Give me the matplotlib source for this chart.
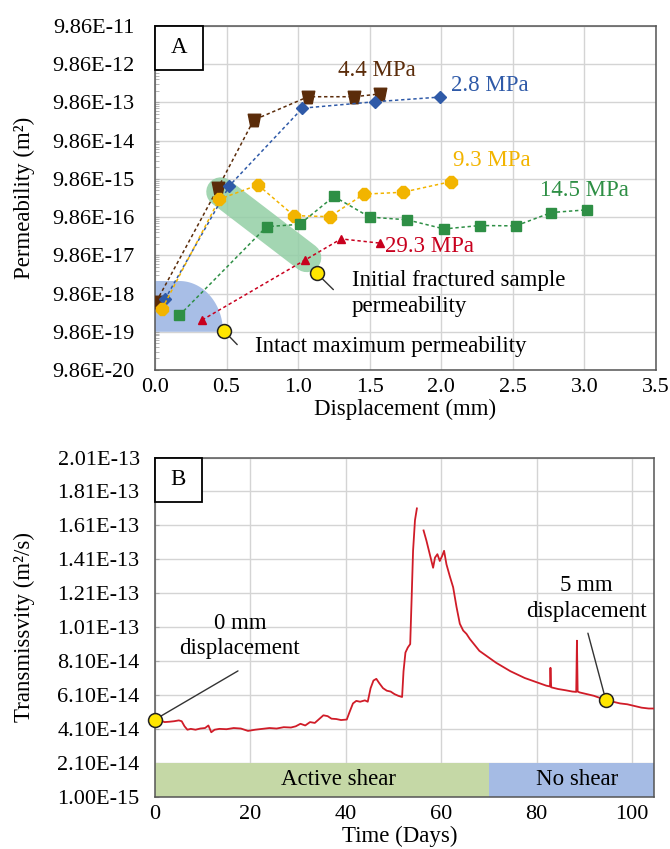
import numpy as np
import matplotlib.pyplot as plt
from matplotlib.path import Path
from matplotlib.patches import Rectangle, Polygon
from matplotlib.ticker import FixedLocator, NullFormatter

plt.rcParams['font.family'] = ['Liberation Serif', 'DejaVu Serif']

# ---- Panel A: permeability vs displacement, one series per normal stress
disp_28 = [0.07, 0.52, 1.03, 1.54, 1.99]
perm_28 = [6.98e-18, 6.52e-15, 6.98e-13, 1.03e-12, 1.36e-12]

disp_44 = [0.01, 0.44, 0.69, 1.07, 1.39, 1.57]
perm_44 = [6.08e-18, 5.67e-15, 3.42e-13, 1.39e-12, 1.39e-12, 1.64e-12]

disp_93 = [0.05, 0.45, 0.72, 0.97, 1.22, 1.46, 1.73, 2.07]
perm_93 = [3.93e-18, 2.91e-15, 6.82e-15, 1.08e-15, 1.01e-15, 3.93e-15, 4.40e-15, 8.39e-15]

disp_145 = [0.17, 0.78, 1.01, 1.25, 1.50, 1.76, 2.02, 2.27, 2.52, 2.77, 3.02]
perm_145 = [2.65e-18, 5.54e-16, 6.37e-16, 3.42e-15, 9.86e-16, 8.39e-16, 4.83e-16,
            5.94e-16, 5.81e-16, 1.30e-15, 1.53e-15]

disp_293 = [0.33, 1.05, 1.30, 1.57]
perm_293 = [2.01e-18, 7.48e-17, 2.65e-16, 2.06e-16]

# highlighted points (yellow circles)
intact_max = (0.48, 1.06e-18)
fractured_init = (1.13, 3.34e-17)

perm_ticks = [9.86e-20, 9.86e-19, 9.86e-18, 9.86e-17, 9.86e-16,
              9.86e-15, 9.86e-14, 9.86e-13, 9.86e-12, 9.86e-11]

# ---- Panel B: transmissivity vs time (units of 1e-14 m2/s)
days = [0, 1, 2, 3, 4, 5, 5.6, 6.2, 6.8, 7.5, 8.5, 9.5, 10.5, 11.2, 11.8, 12.5, 13.5,
        15, 16.5, 18, 19.5, 21, 22.5, 24, 25.5, 27, 28.5, 29.5, 30.5, 31.5, 32.5,
        33.5, 34.5, 35.3, 36.2, 37, 38, 39, 40.2, 40.8, 41.5, 42.2, 43, 44, 44.6,
        45.2, 45.8, 46.4, 47, 47.8, 48.6, 49.4, 50.2, 51, 51.8, 52.1, 52.5, 53,
        53.5, 53.8, 54.1, 54.5, 54.9, np.nan, 56.3, 56.9, 57.6, 58.3, 58.7, 59.2,
        59.7, 60.2, 60.6, 61.1, 61.8, 62.5, 63.2, 63.9, 64.6, 65.3, 66.0, 67, 68,
        69, 70, 71.5, 73, 74.5, 76, 77.5, 79, 80.5, 82, 82.8, 82.9, 83.05, 84.5,
        86, 87.5, 88.3, 88.45, 88.6, 89, 90.5, 92, 93.5, 94.5, 96, 97.5, 99,
        100.5, 102, 103.5, 104.6]
trans = [4.65, 4.62, 4.5, 4.52, 4.55, 4.6, 4.55, 4.25, 4.05, 4.1, 4.05, 4.12, 4.15,
         4.3, 3.9, 4.05, 4.1, 4.08, 4.15, 4.12, 3.98, 4.05, 4.1, 4.15, 4.12, 4.2,
         4.18, 4.25, 4.4, 4.3, 4.5, 4.45, 4.7, 4.9, 4.85, 4.7, 4.68, 4.62, 4.65,
         5.1, 5.6, 5.75, 5.7, 5.78, 5.7, 6.5, 6.95, 7.05, 6.8, 6.5, 6.35, 6.3,
         6.15, 6.05, 5.98, 7.5, 8.6, 8.9, 9.1, 11.8, 14.6, 16.4, 17.1, np.nan,
         15.8, 15.2, 14.4, 13.6, 14.2, 14.4, 14.0, 14.3, 14.6, 13.8, 13.1, 12.45,
         11.3, 10.3, 9.9, 9.7, 9.4, 9.05, 8.7, 8.5, 8.3, 8.0, 7.75, 7.5, 7.3, 7.1,
         6.95, 6.8, 6.65, 6.6, 7.7, 6.55, 6.45, 6.38, 6.3, 6.28, 9.3, 6.3, 6.25,
         6.15, 6.05, 5.9, 5.8, 5.7, 5.6, 5.55, 5.45, 5.35, 5.3, 5.3]
start_pt = (0, 4.65e-14)
end_pt = (94.5, 5.8e-14)
trans_ticks = [1.00e-15 + 2e-14 * i for i in range(11)]
shear_end = 70

fig = plt.figure(figsize=(6.7, 8.49), dpi=100)
fs = 16
grid_c = '#d4d4d4'
dash = (0, (2.2, 1.8))

# ================= panel A =================
ax = fig.add_axes([0.2313, 0.5642, 0.7478, 0.4052])
ax.set_yscale('log')
ax.set_xlim(0, 3.5)
ax.set_ylim(perm_ticks[0], perm_ticks[-1])

# blue zone: intact rock range (rounded block)
lb, lt = np.log10(9.86e-19), np.log10(2.1e-17)
t = np.linspace(0, np.pi / 2, 40)
cx, a = 0.17, 0.305
xs = list(cx + a * np.cos(t)) + [0, 0]
ys = list(10 ** (lb + (lt - lb) * np.sin(t))) + [10 ** lt, 10 ** lb]
ax.add_patch(Polygon(np.column_stack([xs, ys]), closed=True, facecolor='#a8bee6',
                     edgecolor='none', zorder=1.6))
# green band: initial fractured permeability trend
ax.plot([0.46, 1.06], [4.5e-15, 8.6e-17], lw=21, solid_capstyle='round',
        color='#93cfa5', alpha=0.85, zorder=1.6)

series = [
    (disp_44, perm_44, '#5b2c0a', None, 9),
    (disp_28, perm_28, '#2f5aa8', 'D', 6),
    (disp_93, perm_93, '#f2b400', '8', 9),
    (disp_145, perm_145, '#2e8f45', 's', 6.5),
    (disp_293, perm_293, '#c8001e', '^', 6),
]
trap = Path([(-1, 1), (1, 1), (0.6, -1), (-0.6, -1), (-1, 1)],
            [Path.MOVETO, Path.LINETO, Path.LINETO, Path.LINETO, Path.CLOSEPOLY])
for x, y, c, m, ms in series:
    ax.plot(x, y, linestyle=dash, lw=1.1, color=c, marker=m if m else trap,
            ms=ms, mec=c, mfc=c, zorder=3)

lab = dict(fontsize=16.5, va='center', transform=ax.transAxes)
ax.text(0.443, 0.872, '4.4 MPa', color='#5b2c0a', ha='center', **lab)
ax.text(0.669, 0.826, '2.8 MPa', color='#2f5aa8', ha='center', **lab)
ax.text(0.673, 0.610, '9.3 MPa', color='#f2b400', ha='center', **lab)
ax.text(0.858, 0.523, '14.5 MPa', color='#2e8f45', ha='center', **lab)
ax.text(0.459, 0.358, '29.3 MPa', color='#c8001e', ha='left', **lab)

for (px, py), (tx, ty) in [(fractured_init, (0.36, 0.228)), (intact_max, (0.168, 0.068))]:
    ax.annotate('', xy=(px, py), xytext=(tx, ty), textcoords='axes fraction',
                arrowprops=dict(arrowstyle='-', color='#333333', lw=1), zorder=4)
    ax.plot(px, py, 'o', ms=10, mfc='#ffe600', mec='#222222', mew=1.1, zorder=6)
ax.text(0.393, 0.222, 'Initial fractured sample\npermeability', fontsize=16.5,
        ha='left', va='center', transform=ax.transAxes, linespacing=1.3)
ax.text(0.2, 0.067, 'Intact maximum permeability', fontsize=16.5, ha='left',
        va='center', transform=ax.transAxes)

ax.yaxis.set_major_locator(FixedLocator(perm_ticks))
ax.set_yticklabels(['%.2E' % v for v in perm_ticks])
minor = [v * k for v in perm_ticks[:-1] for k in range(2, 10)]
ax.yaxis.set_minor_locator(FixedLocator(minor))
ax.yaxis.set_minor_formatter(NullFormatter())
ax.set_xticks(np.arange(0, 3.51, 0.5))
ax.set_xticklabels(['%.1f' % v for v in np.arange(0, 3.51, 0.5)])
ax.grid(True, which='major', color=grid_c, lw=1)
ax.tick_params(which='both', direction='in', colors='#aaaaaa', labelcolor='black',
               labelsize=fs, length=3)
ax.tick_params(axis='y', which='major', pad=15)
ax.tick_params(axis='x', length=0, pad=6)
ax.set_xlabel('Displacement (mm)', fontsize=16.5)
ax.set_ylabel('Permeability (m²)', fontsize=16.5)
ax.xaxis.set_label_coords(0.5, -0.085)
ax.yaxis.set_label_coords(-0.24, 0.5)
for s in ax.spines.values():
    s.set_color('#555555')
    s.set_linewidth(1.1)
ax.add_patch(Rectangle((0, 1 - 0.128), 0.0958, 0.128, transform=ax.transAxes,
                       facecolor='white', edgecolor='black', lw=1.3, zorder=7,
                       clip_on=False))
ax.text(0.048, 1 - 0.064, 'A', fontsize=16.5, ha='center', va='center',
        transform=ax.transAxes, zorder=8)

# ================= panel B =================
bx = fig.add_axes([0.2313, 0.0616, 0.7448, 0.3995])
bx.set_xlim(0, 104.6)
bx.set_ylim(trans_ticks[0], trans_ticks[-1])

band_top = (2.1e-14 - 1e-15) / (2.01e-13 - 1e-15)
bx.axvspan(0, shear_end, ymin=0, ymax=band_top,
           facecolor='#c5d8a6', edgecolor='none', zorder=1)
bx.axvspan(shear_end, 104.6, ymin=0, ymax=band_top,
           facecolor='#a5bbe4', edgecolor='none', zorder=1)
bx.text(38.5, 1.1e-14, 'Active shear', fontsize=16.5, ha='center', va='center', zorder=3)
bx.text(88.5, 1.1e-14, 'No shear', fontsize=16.5, ha='center', va='center', zorder=3)

bx.plot(days, np.array(trans) * 1e-14, color='#d01c28', lw=1.3, zorder=3)

bx.annotate('', xy=start_pt, xytext=(17.9, 7.6e-14),
            arrowprops=dict(arrowstyle='-', color='#333333', lw=1), zorder=4)
bx.annotate('', xy=end_pt, xytext=(90.6, 9.9e-14),
            arrowprops=dict(arrowstyle='-', color='#333333', lw=1), zorder=4)
bx.plot(*start_pt, 'o', ms=10, mfc='#ffe600', mec='#222222', mew=1.1, zorder=6,
        clip_on=False)
bx.plot(*end_pt, 'o', ms=10, mfc='#ffe600', mec='#222222', mew=1.1, zorder=6)
bx.text(17.8, 8.2e-14, '0 mm\ndisplacement', fontsize=16.5, ha='center', va='bottom',
        linespacing=1.3)
bx.text(90.4, 10.4e-14, '5 mm\ndisplacement', fontsize=16.5, ha='center', va='bottom',
        linespacing=1.3)

bx.set_yticks(trans_ticks)
bx.set_yticklabels(['%.2E' % v for v in trans_ticks])
bx.set_xticks(range(0, 101, 20))
bx.grid(True, color=grid_c, lw=1, zorder=0)
bx.set_axisbelow(True)
bx.tick_params(direction='in', colors='#aaaaaa', labelcolor='black',
               labelsize=fs, length=3)
bx.tick_params(axis='y', pad=11)
bx.tick_params(axis='x', length=0, pad=6)
bx.set_xlabel('Time (Days)', fontsize=16.5)
bx.set_ylabel('Transmissvity (m²/s)', fontsize=16.5)
bx.xaxis.set_label_coords(0.49, -0.087)
bx.yaxis.set_label_coords(-0.24, 0.5)
for s in bx.spines.values():
    s.set_color('#555555')
    s.set_linewidth(1.1)
bx.add_patch(Rectangle((0, 1 - 0.13), 0.094, 0.13, transform=bx.transAxes,
                       facecolor='white', edgecolor='black', lw=1.3, zorder=7,
                       clip_on=False))
bx.text(0.047, 1 - 0.065, 'B', fontsize=16.5, ha='center', va='center',
        transform=bx.transAxes, zorder=8)

fig.savefig('out.png', dpi=100)
